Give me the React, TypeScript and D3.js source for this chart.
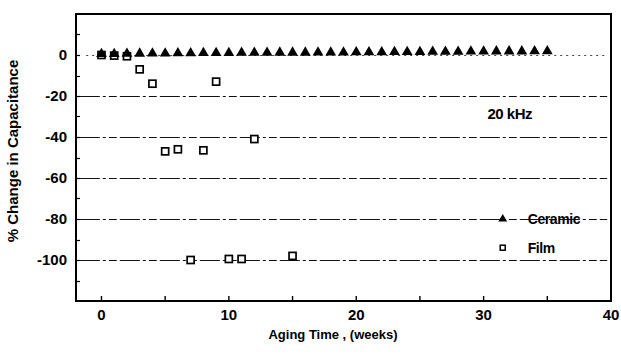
import React, { useEffect, useRef } from 'react';
import * as d3 from 'd3';

// Ceramic: one reading a week, weeks 0..35
const ceramicWeeks = [
  0, 1, 2, 3, 4, 5, 6, 7, 8, 9, 10, 11, 12, 13, 14, 15, 16, 17,
  18, 19, 20, 21, 22, 23, 24, 25, 26, 27, 28, 29, 30, 31, 32, 33, 34, 35,
];
const ceramicChange = [
  0.5, 0.5, 0.6, 0.7, 0.8, 0.8, 0.9, 0.9, 1.0, 1.0, 1.0, 1.1, 1.1, 1.1, 1.2, 1.2, 1.2, 1.3,
  1.3, 1.3, 1.4, 1.4, 1.4, 1.5, 1.5, 1.5, 1.6, 1.6, 1.6, 1.7, 1.7, 1.8, 1.8, 1.8, 1.9, 1.9,
];

// Film
const filmWeeks = [0, 1, 2, 3, 4, 5, 6, 7, 8, 9, 10, 11, 12, 15];
const filmChange = [0, -0.3, -0.6, -7, -14, -47, -46, -100, -46.5, -13, -99.5, -99.5, -41, -98];

const yTicks = [0, -20, -40, -60, -80, -100];
const yMinorTicks = [10, 0, -10, -20, -30, -40, -50, -60, -70, -80, -90, -100, -110];
const xTicks = [0, 10, 20, 30, 40];
const xMinorTicks = [0, 5, 10, 15, 20, 25, 30, 35];

const FONT = '"Liberation Sans", Arial, Helvetica, sans-serif';

export default function App() {
  const svgRef = useRef<SVGSVGElement>(null);
  const width = 621;
  const height = 354;

  useEffect(() => {
    if (!svgRef.current) return;
    const svg = d3.select(svgRef.current);
    svg.selectAll('*').remove();

    const margin = { top: 14, right: 10, bottom: 53, left: 76 };
    const x = d3.scaleLinear().domain([-2, 40]).range([margin.left, width - margin.right]);
    const y = d3.scaleLinear().domain([-120, 20]).range([height - margin.bottom, margin.top]);
    const crisp = (v: number) => Math.round(v) + 0.5;

    svg.append('rect').attr('width', width).attr('height', height).attr('fill', '#fff');

    // dash-dot reference lines
    svg.append('g')
      .selectAll('line')
      .data(yTicks.filter(d => d !== 0))
      .enter()
      .append('line')
      .attr('x1', x(-1.7))
      .attr('x2', x(39.7))
      .attr('y1', d => crisp(y(d)))
      .attr('y2', d => crisp(y(d)))
      .attr('stroke', '#111')
      .attr('stroke-width', 1)
      .attr('stroke-dasharray', '20 3 3 3 8 3');

    svg.append('line')
      .attr('x1', x(-1.2))
      .attr('x2', x(39.5))
      .attr('y1', crisp(y(0)))
      .attr('y2', crisp(y(0)))
      .attr('stroke', '#444')
      .attr('stroke-width', 1)
      .attr('stroke-dasharray', '2 4');

    // frame
    svg.append('rect')
      .attr('x', x(-2))
      .attr('y', y(20))
      .attr('width', x(40) - x(-2))
      .attr('height', y(-120) - y(20))
      .attr('fill', 'none')
      .attr('stroke', '#000')
      .attr('stroke-width', 2);

    // inward ticks
    svg.append('g')
      .selectAll('line')
      .data(yMinorTicks)
      .enter()
      .append('line')
      .attr('x1', x(-2))
      .attr('x2', x(-2) + 4)
      .attr('y1', d => crisp(y(d)))
      .attr('y2', d => crisp(y(d)))
      .attr('stroke', '#000')
      .attr('stroke-width', 1.2);

    svg.append('g')
      .selectAll('line')
      .data(xMinorTicks)
      .enter()
      .append('line')
      .attr('x1', d => x(d))
      .attr('x2', d => x(d))
      .attr('y1', y(-120))
      .attr('y2', y(-120) - 5)
      .attr('stroke', '#000')
      .attr('stroke-width', 1.4);

    // tick labels
    svg.append('g')
      .selectAll('text')
      .data(yTicks)
      .enter()
      .append('text')
      .attr('x', x(-2) - 9)
      .attr('y', d => y(d))
      .attr('dy', '0.36em')
      .attr('text-anchor', 'end')
      .style('font-family', FONT)
      .style('font-weight', 'bold')
      .style('font-size', '15px')
      .text(d => (d < 0 ? `-${-d}` : `${d}`));

    svg.append('g')
      .selectAll('text')
      .data(xTicks)
      .enter()
      .append('text')
      .attr('x', d => x(d))
      .attr('y', y(-120) + 19)
      .attr('text-anchor', 'middle')
      .style('font-family', FONT)
      .style('font-weight', 'bold')
      .style('font-size', '15px')
      .text(d => d);

    // axis titles
    svg.append('text')
      .attr('x', 333)
      .attr('y', 339)
      .attr('text-anchor', 'middle')
      .style('font-family', FONT)
      .style('font-weight', 'bold')
      .style('font-size', '13px')
      .text('Aging Time ,  (weeks)');

    svg.append('text')
      .attr('transform', 'translate(18,151) rotate(-90)')
      .attr('text-anchor', 'middle')
      .style('font-family', FONT)
      .style('font-weight', 'bold')
      .style('font-size', '15px')
      .text('% Change in Capacitance');

    svg.append('text')
      .attr('x', x(30.3))
      .attr('y', y(-31))
      .style('font-family', FONT)
      .style('font-weight', 'bold')
      .style('font-size', '15px')
      .style('letter-spacing', '-0.5px')
      .text('20 kHz');

    const tri = d3.symbol(d3.symbolTriangle, 50);
    const tiny = d3.symbol(d3.symbolTriangle, 34);

    // film
    svg.append('g')
      .selectAll('rect')
      .data(filmWeeks.map((w, i) => ({ w, v: filmChange[i] })))
      .enter()
      .append('rect')
      .attr('x', d => x(d.w) - 3.5)
      .attr('y', d => y(d.v) - 3.5)
      .attr('width', 7)
      .attr('height', 7)
      .attr('fill', '#fff')
      .attr('stroke', '#000')
      .attr('stroke-width', 1.7);

    // ceramic
    svg.append('g')
      .selectAll('path')
      .data(ceramicWeeks.map((w, i) => ({ w, v: ceramicChange[i] })))
      .enter()
      .append('path')
      .attr('d', tri)
      .attr('transform', d => `translate(${x(d.w)},${y(d.v)})`)
      .attr('fill', '#000');

    // legend
    const lx = x(31.5);
    svg.append('path')
      .attr('d', tiny)
      .attr('transform', `translate(${lx},${y(-80)})`)
      .attr('fill', '#000');
    svg.append('rect')
      .attr('x', lx - 2.5)
      .attr('y', y(-94) - 2.5)
      .attr('width', 5)
      .attr('height', 5)
      .attr('fill', '#fff')
      .attr('stroke', '#000')
      .attr('stroke-width', 1.5);

    const legendLabels = ['Ceramic', 'Film'];
    svg.append('g')
      .selectAll('text')
      .data(legendLabels)
      .enter()
      .append('text')
      .attr('x', lx + 25)
      .attr('y', (d, i) => y(i === 0 ? -80 : -94))
      .attr('dy', '0.36em')
      .style('font-family', FONT)
      .style('font-weight', 'bold')
      .style('font-size', '14px')
      .style('letter-spacing', '-0.4px')
      .text(d => d);
  }, []);

  return (
    <svg
      ref={svgRef}
      width={width}
      height={height}
      style={{ position: 'absolute', left: 0, top: 0 }}
    />
  );
}
